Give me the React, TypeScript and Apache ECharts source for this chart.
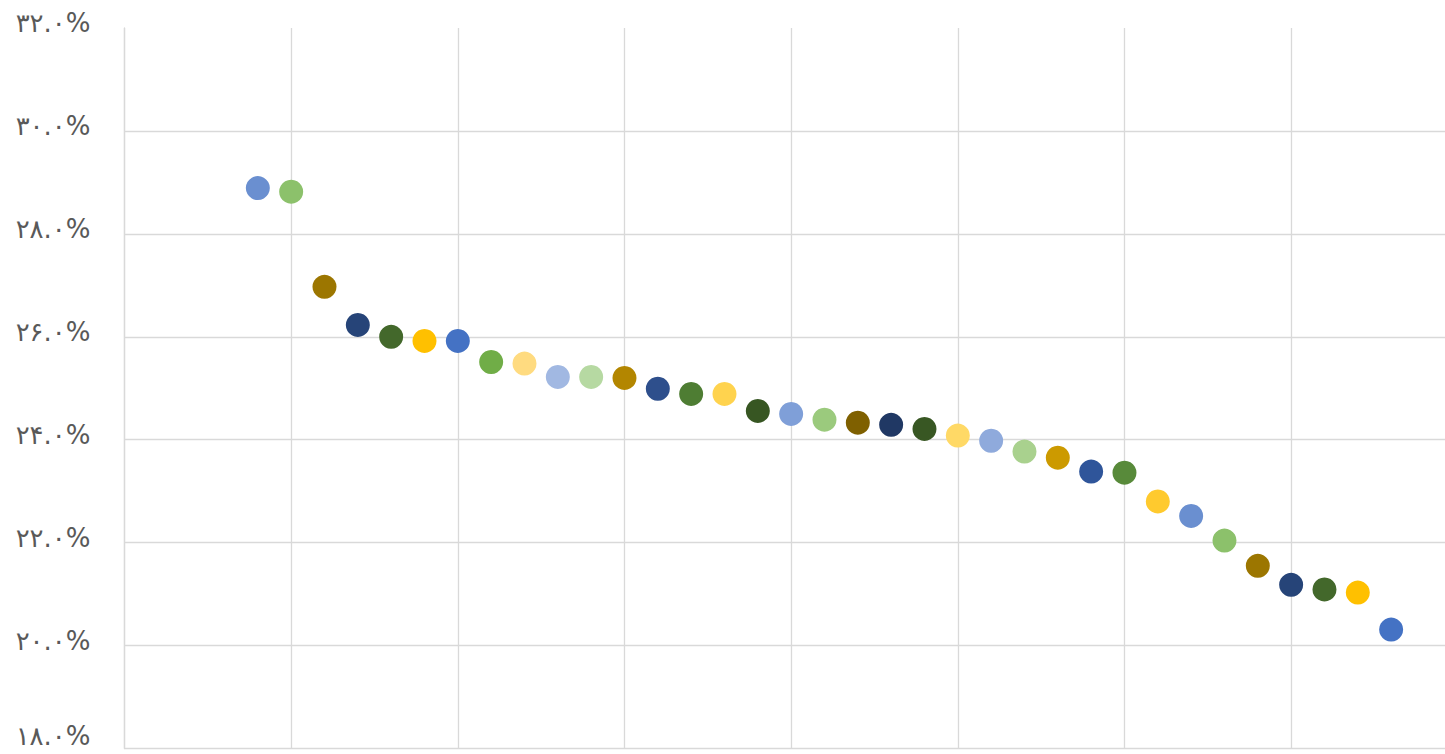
import React, { useEffect, useRef } from "react";
import * as echarts from "echarts";

const xValues = [4, 5, 6, 7, 8, 9, 10, 11, 12, 13, 14, 15, 16, 17, 18, 19, 20, 21, 22, 23, 24, 25, 26, 27, 28, 29, 30, 31, 32, 33, 34, 35, 36, 37, 38];
const yValues = [28.89, 28.82, 26.97, 26.23, 26.0, 25.92, 25.92, 25.51, 25.48, 25.22, 25.22, 25.2, 24.99, 24.89, 24.89, 24.56, 24.5, 24.39, 24.33, 24.29, 24.21, 24.08, 23.98, 23.77, 23.65, 23.38, 23.36, 22.8, 22.52, 22.04, 21.55, 21.18, 21.09, 21.03, 20.31];
const pointColors = [
  "#6a8fd0", "#8cc16b", "#9c7600", "#264478", "#43682b", "#ffc000", "#4472c4",
  "#70ad47", "#ffdb80", "#a1b8e2", "#b6d9a2", "#b38600", "#2e4f8c", "#4e7d33",
  "#ffd34e", "#375622", "#7f9fd8", "#9bca7d", "#7f6000", "#203864", "#385723",
  "#ffd966", "#8faadc", "#a9d18e", "#cc9a00", "#2f559a", "#588a3a", "#ffca2e",
  "#6a8fd0", "#8cc16b", "#9c7600", "#264478", "#43682b", "#ffc000", "#4472c4",
];
const yMin = 18;
const yMax = 32;
const yStep = 2;
const xMin = 0;
const xMax = 40;
const xStep = 5;

const persianDigits = ["۰", "۱", "۲", "۳", "۴", "۵", "۶", "۷", "۸", "۹"];
const toPersian = (s: string) => s.replace(/[0-9]/g, (d) => persianDigits[Number(d)]);

export default function App() {
  const ref = useRef<HTMLDivElement>(null);
  useEffect(() => {
    if (!ref.current) return;
    const chart = echarts.init(ref.current, undefined, { renderer: "svg" });
    const gridColor = "#d9d9d9";
    const labelColor = "#595959";
    chart.setOption({
      animation: false,
      backgroundColor: "#ffffff",
      grid: {
        left: 124.5,
        top: 28,
        width: 1333.3,
        height: 720.5,
        containLabel: false,
        outerBoundsMode: "none",
      },
      xAxis: {
        type: "value",
        min: xMin,
        max: xMax,
        interval: xStep,
        axisLine: { show: false },
        axisTick: { show: false },
        axisLabel: { show: false },
        splitLine: { show: true, lineStyle: { color: gridColor, width: 1.3 } },
      },
      yAxis: {
        type: "value",
        min: yMin,
        max: yMax,
        interval: yStep,
        axisLine: { show: true, lineStyle: { color: gridColor, width: 1.3 } },
        axisTick: { show: false },
        axisLabel: {
          show: true,
          margin: 34,
          color: labelColor,
          fontSize: 26,
          fontFamily: "DejaVu Sans",
          verticalAlign: "bottom",
          lineHeight: 10,
          formatter: (v: number) => {
            const t = toPersian(v.toFixed(1)) + "%";
            return v === yMin ? `{low|${t}}` : t;
          },
          rich: {
            low: {
              color: labelColor,
              fontSize: 26,
              fontFamily: "DejaVu Sans",
              lineHeight: 26,
            },
          },
        },
        splitLine: {
          show: true,
          lineStyle: {
            color: [gridColor, gridColor, gridColor, gridColor, gridColor, gridColor, gridColor, "rgba(0,0,0,0)"],
            width: 1.3,
          },
        },
      },
      series: [
        {
          type: "scatter",
          symbol: "circle",
          symbolSize: 24,
          data: xValues.map((x, i) => ({
            value: [x, yValues[i]],
            itemStyle: { color: pointColors[i], opacity: 1 },
          })),
        },
      ],
    });
    return () => chart.dispose();
  }, []);
  return (
    <div
      ref={ref}
      style={{ position: "fixed", left: 0, top: 0, width: 1445, height: 754 }}
    />
  );
}
